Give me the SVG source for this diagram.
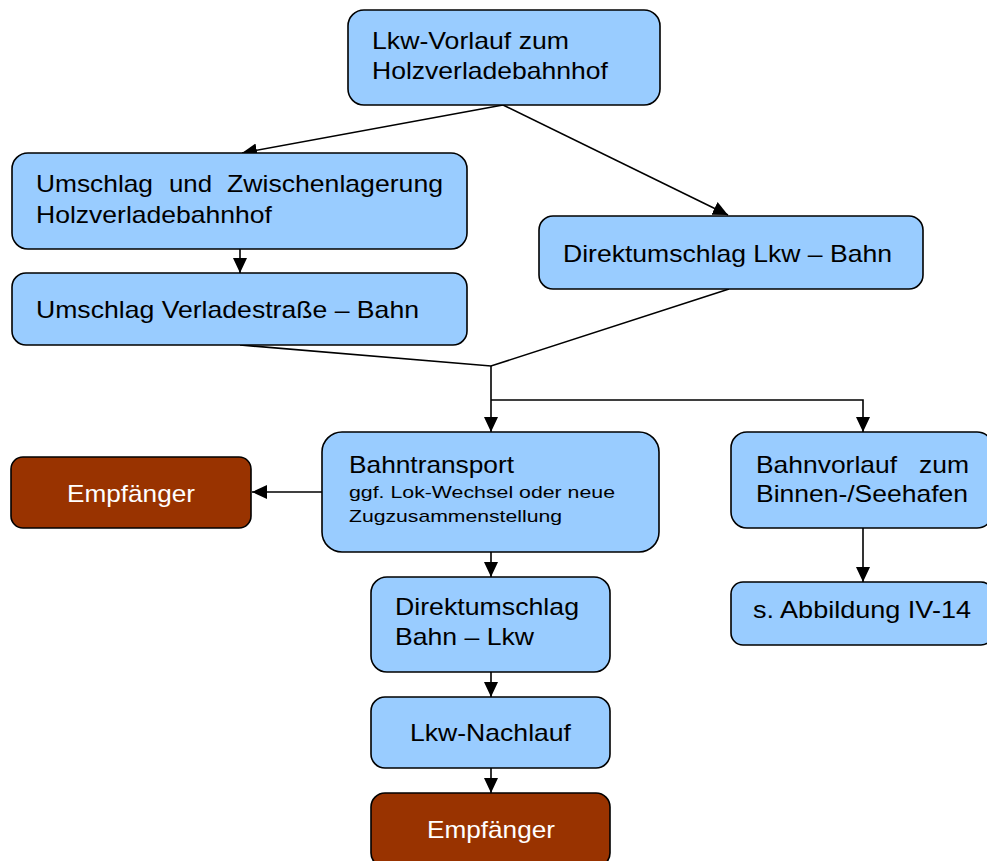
<svg xmlns="http://www.w3.org/2000/svg" width="987" height="861" viewBox="0 0 987 861">
<style>
.b{fill:#99CCFF;stroke:#000;stroke-width:1.6}
.r{fill:#993300;stroke:#000;stroke-width:1.6}
.t{font-family:"Liberation Sans",Arial,sans-serif;font-size:24px;fill:#000}
.s{font-family:"Liberation Sans",Arial,sans-serif;font-size:17px;fill:#000}
.w{font-family:"Liberation Sans",Arial,sans-serif;font-size:24px;fill:#fff}
.c{fill:none;stroke:#000;stroke-width:1.6}
</style>
<defs>
<marker id="a" markerUnits="userSpaceOnUse" markerWidth="16" markerHeight="16" viewBox="0 0 16 16" refX="15" refY="8" orient="auto">
<path d="M0,1 L15,8 L0,15 Z" fill="#000"/>
</marker>
</defs>
<g id="connectors">
<line class="c" x1="503" y1="105" x2="242" y2="153" marker-end="url(#a)"/>
<line class="c" x1="503" y1="105" x2="728" y2="215" marker-end="url(#a)"/>
<line class="c" x1="240" y1="249" x2="240" y2="273" marker-end="url(#a)"/>
<polyline class="c" points="240,345 491,366 729,289"/>
<line class="c" x1="491" y1="366" x2="491" y2="432" marker-end="url(#a)"/>
<polyline class="c" points="491,400 863,400 863,432" marker-end="url(#a)"/>
<line class="c" x1="322" y1="492" x2="252" y2="492" marker-end="url(#a)"/>
<line class="c" x1="491" y1="552" x2="491" y2="577" marker-end="url(#a)"/>
<line class="c" x1="863" y1="528" x2="863" y2="582" marker-end="url(#a)"/>
<line class="c" x1="491" y1="672" x2="491" y2="697" marker-end="url(#a)"/>
<line class="c" x1="491" y1="768" x2="491" y2="793" marker-end="url(#a)"/>
</g>
<g id="n1">
<rect class="b" x="348" y="10" width="312" height="95" rx="16"/>
<text class="t" x="372" y="49" textLength="197" lengthAdjust="spacingAndGlyphs">Lkw-Vorlauf zum</text>
<text class="t" x="372" y="79" textLength="236" lengthAdjust="spacingAndGlyphs">Holzverladebahnhof</text>
</g>
<g id="n2">
<rect class="b" x="12" y="153" width="455" height="96" rx="16"/>
<text class="t" x="36" y="192" textLength="117" lengthAdjust="spacingAndGlyphs">Umschlag</text>
<text class="t" x="169" y="192" textLength="43" lengthAdjust="spacingAndGlyphs">und</text>
<text class="t" x="227" y="192" textLength="216" lengthAdjust="spacingAndGlyphs">Zwischenlagerung</text>
<text class="t" x="36" y="223" textLength="236" lengthAdjust="spacingAndGlyphs">Holzverladebahnhof</text>
</g>
<g id="n3">
<rect class="b" x="12" y="273" width="455" height="72" rx="14"/>
<text class="t" x="36" y="318" textLength="383" lengthAdjust="spacingAndGlyphs">Umschlag Verladestraße – Bahn</text>
</g>
<g id="n4">
<rect class="b" x="539" y="216" width="384" height="73" rx="14"/>
<text class="t" x="563" y="262" textLength="329" lengthAdjust="spacingAndGlyphs">Direktumschlag Lkw – Bahn</text>
</g>
<g id="n5">
<rect class="b" x="322" y="432" width="337" height="120" rx="20"/>
<text class="t" x="349" y="473" textLength="165" lengthAdjust="spacingAndGlyphs">Bahntransport</text>
<text class="s" x="349" y="498" textLength="266" lengthAdjust="spacingAndGlyphs">ggf. Lok-Wechsel oder neue</text>
<text class="s" x="349" y="522" textLength="213" lengthAdjust="spacingAndGlyphs">Zugzusammenstellung</text>
</g>
<g id="n6">
<rect class="r" x="11" y="457" width="240" height="71" rx="12"/>
<text class="w" x="67" y="502" textLength="128" lengthAdjust="spacingAndGlyphs">Empfänger</text>
</g>
<g id="n7">
<rect class="b" x="731" y="432" width="262" height="96" rx="16"/>
<text class="t" x="756" y="473" textLength="141" lengthAdjust="spacingAndGlyphs">Bahnvorlauf</text>
<text class="t" x="969" y="473" text-anchor="end" textLength="50" lengthAdjust="spacingAndGlyphs">zum</text>
<text class="t" x="756" y="502" textLength="212" lengthAdjust="spacingAndGlyphs">Binnen-/Seehafen</text>
</g>
<g id="n8">
<rect class="b" x="731" y="582" width="262" height="63" rx="12"/>
<text class="t" x="753" y="618" textLength="218" lengthAdjust="spacingAndGlyphs">s. Abbildung IV-14</text>
</g>
<g id="n9">
<rect class="b" x="371" y="577" width="239" height="95" rx="16"/>
<text class="t" x="395" y="615" textLength="184" lengthAdjust="spacingAndGlyphs">Direktumschlag</text>
<text class="t" x="395" y="645" textLength="139" lengthAdjust="spacingAndGlyphs">Bahn – Lkw</text>
</g>
<g id="n10">
<rect class="b" x="371" y="697" width="239" height="71" rx="14"/>
<text class="t" x="410" y="741" textLength="161" lengthAdjust="spacingAndGlyphs">Lkw-Nachlauf</text>
</g>
<g id="n11">
<rect class="r" x="371" y="793" width="239" height="74" rx="14"/>
<text class="w" x="427" y="838" textLength="128" lengthAdjust="spacingAndGlyphs">Empfänger</text>
</g>
</svg>
